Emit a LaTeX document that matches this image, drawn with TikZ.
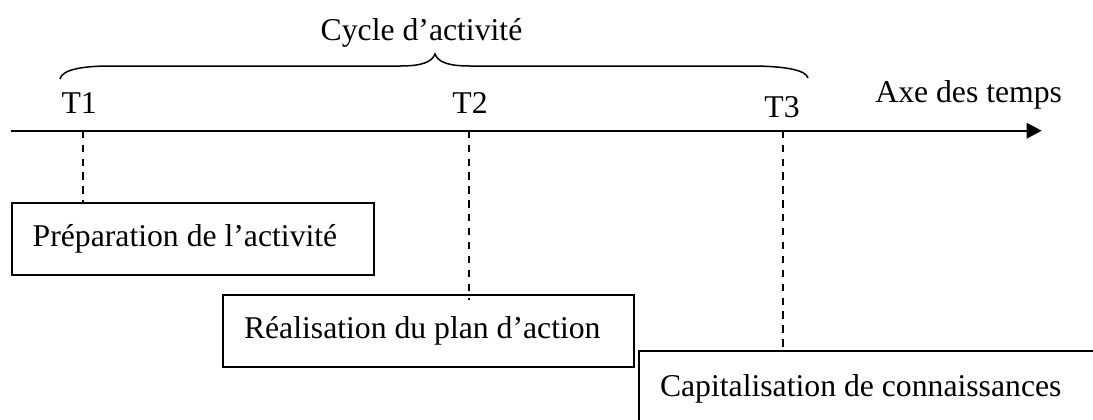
\documentclass[tikz,border=0pt]{standalone}
\usepackage{fontspec}
\setmainfont{Liberation Serif}
\usetikzlibrary{arrows.meta}
\begin{document}
\begin{tikzpicture}[x=0.5pt,y=-0.5pt,
  every node/.style={font=\fontsize{15.85}{19}\selectfont},
  axisline/.style={line width=1pt,-{Triangle[length=7.5pt,width=7.7pt]}},
  guide/.style={line width=0.85pt,dash pattern=on 3.65pt off 3.3pt},
  phasebox/.style={draw,line width=1pt,anchor=north west,inner xsep=10.5pt,inner ysep=0pt,align=flush left,minimum height=36pt},
  bracepath/.style={line width=0.75pt},
  tlabel/.style={anchor=base,inner sep=0pt}]
\useasboundingbox (0,0) rectangle (1093,419);
\clip (0,0) rectangle (1093,419);
% axis
\coordinate (ax0) at (10.5,130.7);
\coordinate (ax1) at (1041.7,130.7);
\draw[axisline] (ax0) -- (ax1);
\node[anchor=base west,inner sep=0pt] (axe) at (875,102) {Axe des temps};
% time marks
\coordinate (t1) at (83.3,130.7);
\coordinate (t2) at (469.3,130.7);
\coordinate (t3) at (783,130.7);
\node[tlabel] (T1) at (79.2,113) {T1};
\node[tlabel] (T2) at (470,113) {T2};
\node[tlabel] (T3) at (782,117) {T3};
% brace
\draw[bracepath] (60,79) .. controls (62,69) and (85,66) .. (110,66) -- (400,66)
  .. controls (422,66) and (432,62) .. (435,54)
  .. controls (438,62) and (448,66) .. (470,66) -- (750,66)
  .. controls (785,66) and (806,70) .. (808,78);
\node[anchor=base,inner sep=0pt] (cycle) at (421.5,40) {Cycle d’activité};
% boxes
\node[phasebox,text width=160.3pt] (b1) at (10.7,202) {Préparation de l’activité};
\node[phasebox,text width=184.5pt] (b2) at (222,294) {Réalisation du plan d’action};
\node[phasebox,text width=240pt,minimum height=37.5pt] (b3) at (638,350) {Capitalisation de connaissances};
% guides
\coordinate (t2end) at (469.3,300);
\draw[guide] (t1) -- (t1 |- b1.north);
\draw[guide] (t2) -- (t2end);
\draw[guide] (t3) -- (t3 |- b3.north);
\end{tikzpicture}
\end{document}
